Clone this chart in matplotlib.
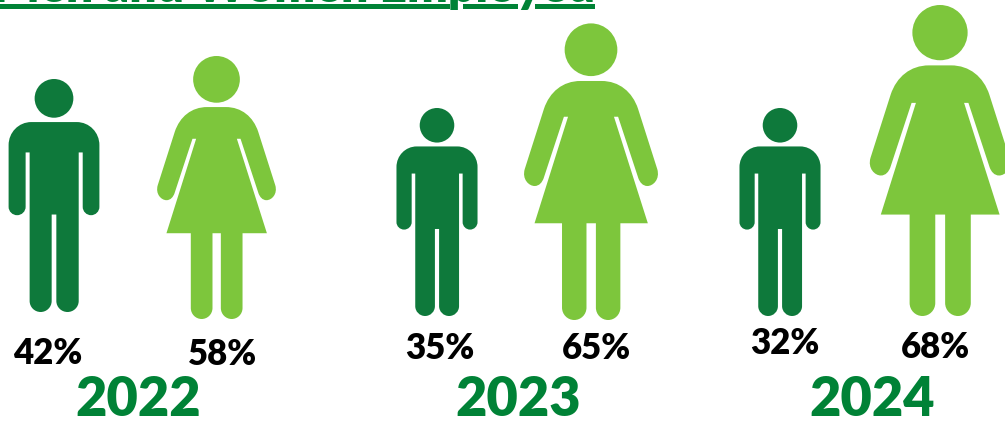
import numpy as np
import matplotlib
matplotlib.use("Agg")
import matplotlib.pyplot as plt
from matplotlib.path import Path
from matplotlib.patches import PathPatch, Circle, Rectangle, Polygon

# Share of men and women employed per year
years = ["2022", "2023", "2024"]
men_pct = [42, 35, 32]
women_pct = [58, 65, 68]
title = "Men and Women Employed"

MAN_COLOR = "#0E793B"
WOMAN_COLOR = "#7DC63C"
HEADING_COLOR = "#008236"
FONT = "Lato"
WEIGHT = 800

# Pictogram centre x and foot y, one pair per year
man_anchor = [(54, 312), (437, 316), (780, 316)]
woman_anchor = [(216.5, 319), (591, 320), (940, 316)]
man_label_xy = [(48, 364), (440, 359), (785, 354)]
woman_label_xy = [(223, 365), (596, 359), (935, 358)]
year_x = [138, 518, 872]


def man_height(v):
    return np.interp(v, [35, 42], [208, 233])


def woman_height(v):
    return np.interp(v, [58, 68], [263, 311])


M, L, C = Path.MOVETO, Path.LINETO, Path.CURVE4
k = 0.5523


def build(segments):
    verts, codes = [], []
    for code, pts in segments:
        verts += pts
        codes += [code] * len(pts)
    verts.append(verts[0])
    codes.append(Path.CLOSEPOLY)
    return np.array(verts, float), codes


def u_end(x0, x1, y, depth):
    """Rounded end running from (x0, y) to (x1, y), bulging downward by depth."""
    xm = (x0 + x1) / 2
    rx = (x1 - x0) / 2
    return [(C, [(x0, y + depth * k), (xm - rx * k, y + depth), (xm, y + depth)]),
            (C, [(xm + rx * k, y + depth), (x1, y + depth * k), (x1, y)])]


# Outlines in design units: origin at the figure's centre line, y grows downward
man_v, man_c = build([
    (M, [(-68, 216)]), (L, [(68, 216)]),
    (C, [(106, 216), (136, 247), (136, 285)]),
    (L, [(136, 470)]), *u_end(136, 86, 470, 25),
    (L, [(86, 307), (74, 307), (74, 752)]), *u_end(74, 7, 752, 33),
    (L, [(7, 493), (-7, 493), (-7, 752)]), *u_end(-7, -73, 752, 33),
    (L, [(-73, 307), (-85, 307), (-85, 470)]), *u_end(-85, -136, 470, 25),
    (L, [(-136, 285)]),
    (C, [(-136, 247), (-106, 216), (-68, 216)]),
])
MAN = dict(path=Path(man_v, man_c), cy=145, r=58, top=87, bottom=785)

woman_v, woman_c = build([
    (M, [(-28, 171)]), (L, [(28, 171)]),
    (C, [(75, 171), (110, 200), (125, 245)]),
    (L, [(176, 405)]),
    (C, [(184, 432), (165, 450), (150, 450)]),
    (C, [(137, 450), (130, 440), (126, 430)]),
    (L, [(72, 266), (61, 266), (151, 549), (78, 549), (78, 773)]), *u_end(78, 13, 773, 33),
    (L, [(13, 549), (-12, 549), (-12, 773)]), *u_end(-12, -77, 773, 33),
    (L, [(-77, 549), (-150, 549), (-61, 266), (-72, 266), (-126, 430)]),
    (C, [(-130, 440), (-137, 450), (-150, 450)]),
    (C, [(-165, 450), (-184, 432), (-176, 405)]),
    (L, [(-125, 245)]),
    (C, [(-110, 200), (-75, 171), (-28, 171)]),
])
WOMAN = dict(path=Path(woman_v, woman_c), cy=88, r=70, top=18, bottom=806)


def draw_figure(ax, shape, cx, foot, height, color):
    s = height / (shape["bottom"] - shape["top"])
    v = shape["path"].vertices * s + [cx, foot - shape["bottom"] * s]
    ax.add_patch(PathPatch(Path(v, shape["path"].codes), fc=color, ec="none"))
    ax.add_patch(Circle((cx, foot + (shape["cy"] - shape["bottom"]) * s),
                        shape["r"] * s, fc=color, ec="none"))


fig = plt.figure(figsize=(10.05, 4.21), dpi=100)
ax = fig.add_axes([0, 0, 1, 1])
ax.set_xlim(0, 1005)
ax.set_ylim(421, 0)
ax.axis("off")

for i, yr in enumerate(years):
    draw_figure(ax, MAN, *man_anchor[i], man_height(men_pct[i]), MAN_COLOR)
    draw_figure(ax, WOMAN, *woman_anchor[i], woman_height(women_pct[i]), WOMAN_COLOR)
    ax.text(*man_label_xy[i], f"{men_pct[i]}%", family=FONT, weight=WEIGHT,
            fontsize=25, ha="center", va="baseline", color="black")
    ax.text(*woman_label_xy[i], f"{women_pct[i]}%", family=FONT, weight=WEIGHT,
            fontsize=25, ha="center", va="baseline", color="black")
    ax.text(year_x[i], 416, yr, family=FONT, weight=WEIGHT, fontsize=39,
            ha="center", va="baseline", color=HEADING_COLOR)

# Heading runs off the top edge; the underline breaks around descenders
ax.text(595, 2, title, family=FONT, weight=WEIGHT, fontsize=34.6, ha="right",
        va="baseline", color=HEADING_COLOR, clip_on=True)
for x0, x1 in [(0, 450), (463, 518), (535, 595)]:
    ax.add_patch(Rectangle((x0, 4), x1 - x0, 5, fc=HEADING_COLOR, ec="none"))

fig.savefig("out.png", dpi=100, facecolor="white")
